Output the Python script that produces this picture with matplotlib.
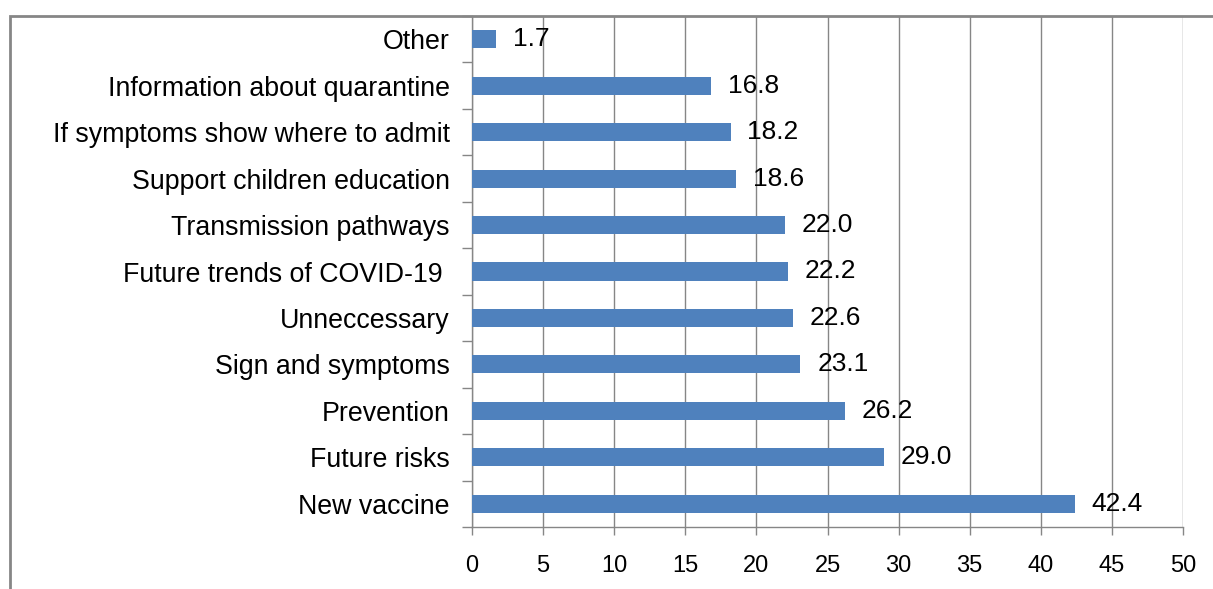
import numpy as np
import matplotlib
matplotlib.use("Agg")
import matplotlib.pyplot as plt
from matplotlib.patches import Rectangle

# data, bottom to top
categories = ["New vaccine", "Future risks", "Prevention", "Sign and symptoms",
              "Unneccessary", "Future trends of COVID-19 ", "Transmission pathways",
              "Support children education", "If symptoms show where to admit",
              "Information about quarantine", "Other"]
values = [42.4, 29.0, 26.2, 23.1, 22.6, 22.2, 22.0, 18.6, 18.2, 16.8, 1.7]
xticks = [0, 5, 10, 15, 20, 25, 30, 35, 40, 45, 50]

plt.rcParams['font.family'] = ['Liberation Sans', 'DejaVu Sans']

grey = "#868686"
blue = "#4F81BD"

fig = plt.figure(figsize=(12.13, 5.89), dpi=100)
ax = fig.add_axes([472/1213, 1-527/589, (1183-472)/1213, (527-16)/589])

# outer frame (left and top visible)
fig.patches.append(Rectangle((10/1213, -0.1), 1.2, 1.1 - 16/589,
                             transform=fig.transFigure, fill=False,
                             edgecolor=grey, linewidth=2, zorder=0))

y = np.arange(len(categories))
ax.barh(y, values, height=0.39, color=blue, zorder=3)

for yi, v in zip(y, values):
    ax.annotate("{:.1f}".format(v), (v, yi), xytext=(12, 0), textcoords="offset points",
                va="center", ha="left", fontsize=19, zorder=4)

ax.set_xlim(0, 50)
ax.set_ylim(-0.5, len(categories) - 0.5)
ax.set_xticks(xticks)
ax.set_yticks(y)
ax.set_yticklabels(categories, fontsize=19.3)
ax.set_yticks(np.arange(-0.5, len(categories)), minor=True)
ax.set_xticklabels([str(t) for t in xticks], fontsize=17)

ax.grid(True, axis="x", color=grey, linewidth=1, zorder=0)
ax.tick_params(axis="y", which="major", length=0, pad=16)
ax.tick_params(axis="y", which="minor", length=7, color=grey, width=1)
ax.tick_params(axis="x", which="major", length=6, color=grey, width=1, pad=14)

for s in ["top", "right"]:
    ax.spines[s].set_visible(False)
for s in ["left", "bottom"]:
    ax.spines[s].set_color(grey)
    ax.spines[s].set_linewidth(1)

fig.savefig("out.png", dpi=100)
